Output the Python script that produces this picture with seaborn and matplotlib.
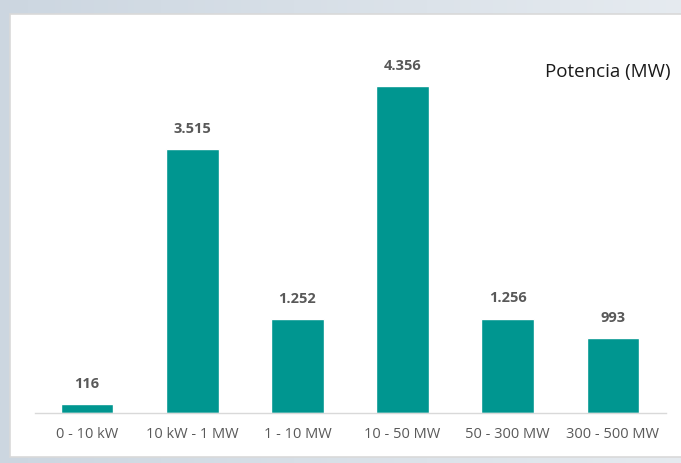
import matplotlib
matplotlib.use("Agg")
import matplotlib.pyplot as plt
import numpy as np
import pandas as pd
import seaborn as sns
from matplotlib.patches import Rectangle

categories = ["0 - 10 kW", "10 kW - 1 MW", "1 - 10 MW", "10 - 50 MW", "50 - 300 MW", "300 - 500 MW"]
potencia_mw = [116, 3515, 1252, 4356, 1256, 993]
value_labels = ["116", "3.515", "1.252", "4.356", "1.256", "993"]

df = pd.DataFrame({"rango": categories, "potencia": potencia_mw})

sns.set_theme(style="white")
plt.rcParams["font.family"] = ["Open Sans", "DejaVu Sans"]

W, H = 681, 463
fig = plt.figure(figsize=(W / 100, H / 100), dpi=100)

# light blue-grey surround with a white card
bg = fig.add_axes([0, 0, 1, 1], zorder=-10)
bg.set_xlim(0, W)
bg.set_ylim(H, 0)
bg.axis("off")
grad = np.linspace(0, 1, 256).reshape(1, -1)
bg.imshow(np.dstack([0.80 + 0.10 * grad, 0.84 + 0.08 * grad, 0.88 + 0.06 * grad]).repeat(2, axis=0),
          extent=[0, W, H, 0], aspect="auto")
bg.add_patch(Rectangle((10, 14), 690, 443, facecolor="white", edgecolor="#d9d9d9", lw=1.2))

bottom = (H - 413) / H
top = (H - 37.5) / H
left = 34.5 / W
right = 665.5 / W
ax = fig.add_axes([left, bottom, right - left, top - bottom])
ax.patch.set_alpha(0)

teal = "#009690"
sns.barplot(data=df, x="rango", y="potencia", color=teal, saturation=1, width=0.5, ax=ax)
ax.set_xlim(-0.5, 5.5)
ax.set_ylim(0, 5000)

for i, (v, lab) in enumerate(zip(potencia_mw, value_labels)):
    ax.annotate(lab, (i, v), xytext=(0, 9.5), textcoords="offset points", ha="center", va="bottom",
                fontsize=10.5, fontweight="bold", color="#595959")

for s in ["top", "right", "left"]:
    ax.spines[s].set_visible(False)
ax.spines["bottom"].set_color("#d9d9d9")
ax.spines["bottom"].set_linewidth(1.0)
ax.set_yticks([])
ax.set_xlabel("")
ax.set_ylabel("")
ax.tick_params(axis="x", length=0, pad=10, labelsize=10.5, labelcolor="#595959")

fig.text(671 / W, 1 - 72 / H, "Potencia (MW)", ha="right", va="center", fontsize=13.5, color="#1a1a1a")

fig.savefig("out.png", dpi=100)
